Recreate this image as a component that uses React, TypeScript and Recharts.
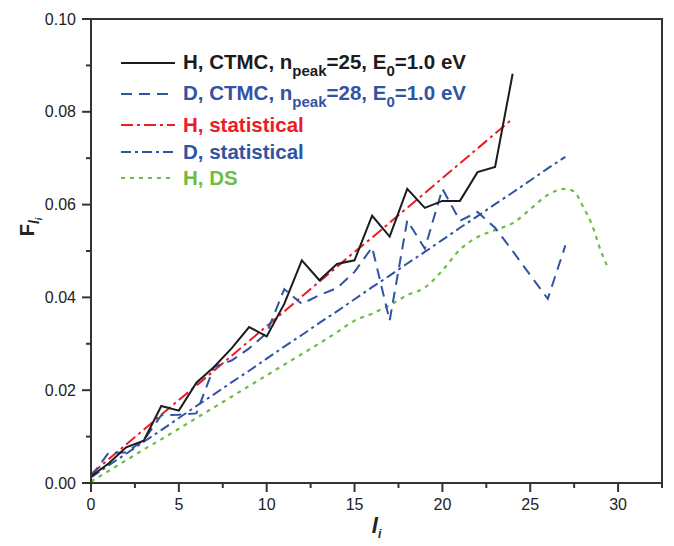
import React from 'react';
import { LineChart, Line, XAxis, YAxis, ReferenceArea, Legend } from 'recharts';

// ---- data ----
const lH = [0, 1, 2, 3, 4, 5, 6, 7, 8, 9, 10, 11, 12, 13, 14, 15, 16, 17, 18, 19, 20, 21, 22, 23, 24];
const hCTMC = [0.0014, 0.0042, 0.0077, 0.0091, 0.0166, 0.0156, 0.0216, 0.025, 0.029, 0.0336, 0.0316, 0.0386, 0.048, 0.0437, 0.0472, 0.048, 0.0576, 0.0531, 0.0634, 0.0593, 0.0608, 0.0608, 0.067, 0.0681, 0.0882];
const hStat = [0.0019, 0.0051, 0.0083, 0.0115, 0.0147, 0.0179, 0.021, 0.0242, 0.0274, 0.0306, 0.0338, 0.037, 0.0402, 0.0434, 0.0466, 0.0498, 0.0529, 0.0561, 0.0593, 0.0625, 0.0657, 0.0689, 0.0721, 0.0753, 0.0785];

const lD = [0, 1, 2, 3, 4, 5, 6, 7, 8, 9, 10, 11, 12, 13, 14, 15, 16, 17, 18, 19, 20, 21, 22, 23, 24, 25, 26, 27];
const dCTMC = [0.0014, 0.0065, 0.0066, 0.0092, 0.0146, 0.0147, 0.015, 0.025, 0.0264, 0.029, 0.0323, 0.0418, 0.0386, 0.0405, 0.042, 0.0455, 0.0508, 0.035, 0.0566, 0.0505, 0.0634, 0.0565, 0.0584, 0.055, 0.05, 0.0448, 0.0397, 0.0512];
const dStat = [0.0012, 0.0038, 0.0063, 0.0089, 0.0114, 0.014, 0.0166, 0.0191, 0.0217, 0.0242, 0.0268, 0.0294, 0.0319, 0.0345, 0.037, 0.0396, 0.0422, 0.0447, 0.0473, 0.0498, 0.0524, 0.055, 0.0575, 0.0601, 0.0626, 0.0652, 0.0678, 0.0703];

const lDS = [0, 1, 2, 3, 4, 5, 6, 7, 8, 9, 10, 11, 12, 13, 14, 15, 16, 17, 18, 19, 20, 21, 22, 23, 24, 25, 26, 27, 27.5, 28, 28.5, 29, 29.4];
const hDS = [0.0003, 0.0026, 0.0049, 0.0072, 0.0094, 0.0117, 0.014, 0.0163, 0.0186, 0.0209, 0.0232, 0.0255, 0.0278, 0.0301, 0.0325, 0.035, 0.0365, 0.0383, 0.0405, 0.0421, 0.0458, 0.0503, 0.053, 0.0545, 0.056, 0.059, 0.0621, 0.0634, 0.0628, 0.0596, 0.0558, 0.0502, 0.0466];

const xTicks = [0, 2.5, 5, 7.5, 10, 12.5, 15, 17.5, 20, 22.5, 25, 27.5, 30, 32.5];
const yTicks = [0, 0.01, 0.02, 0.03, 0.04, 0.05, 0.06, 0.07, 0.08, 0.09, 0.1];

const zip = (xs: number[], ys: number[]) => xs.map((x, i) => ({ x, y: ys[i] }));

const BLACK = '#1c1c1c';
const BLUE = '#3153a3';
const RED = '#ec1c24';
const GREEN = '#6cbd45';
const AXIS = '#333333';
const FONT = '"Liberation Sans", Arial, Helvetica, sans-serif';

const XTick = (props: any) => {
  const { x, y, payload } = props;
  const v = payload.value as number;
  const major = Math.abs(v / 5 - Math.round(v / 5)) < 1e-6;
  return (
    <g>
      <line x1={x} y1={y} x2={x} y2={y + (major ? 9 : 5)} stroke={AXIS} strokeWidth={2} />
      {major && (
        <text x={x} y={y + 27} textAnchor="middle" fontSize={16} fontFamily={FONT} fill="#222">
          {v}
        </text>
      )}
    </g>
  );
};

const YTick = (props: any) => {
  const { x, y, payload } = props;
  const v = payload.value as number;
  const major = Math.abs(v / 0.02 - Math.round(v / 0.02)) < 1e-6;
  return (
    <g>
      <line x1={x} y1={y} x2={x - (major ? 9 : 5)} y2={y} stroke={AXIS} strokeWidth={2} />
      {major && (
        <text x={x - 15} y={y + 5.5} textAnchor="end" fontSize={16} fontFamily={FONT} fill="#222">
          {v.toFixed(2)}
        </text>
      )}
    </g>
  );
};

const legendRows = [
  { color: BLACK, dash: undefined as string | undefined, main: ['H, CTMC, n', '=25, E', '=1.0 eV'], subs: ['peak', '0'], center: 63 },
  { color: BLUE, dash: '11 7', main: ['D, CTMC, n', '=28, E', '=1.0 eV'], subs: ['peak', '0'], center: 94 },
  { color: RED, dash: '12 4 3 4', main: ['H, statistical'], subs: [], center: 125 },
  { color: BLUE, dash: '10 4 3 4', main: ['D, statistical'], subs: [], center: 152 },
  { color: GREEN, dash: '4 5', main: ['H, DS'], subs: [], center: 178 },
];

const renderLegend = () => (
  <div style={{ position: 'relative', width: 674, height: 0 }}>
    {legendRows.map((r, i) => (
      <div
        key={i}
        style={{
          position: 'absolute',
          left: 121,
          top: r.center - 10,
          height: 20,
          display: 'flex',
          alignItems: 'center',
          whiteSpace: 'nowrap',
        }}
      >
        <svg width={54} height={6} style={{ display: 'block' }}>
          <line x1={0} y1={3} x2={54} y2={3} stroke={r.color} strokeWidth={2} strokeDasharray={r.dash} />
        </svg>
        <span
          style={{
            marginLeft: 8,
            fontFamily: FONT,
            fontWeight: 'bold',
            fontSize: 20.5,
            lineHeight: '20px',
            color: r.color,
          }}
        >
          {r.main.map((m, j) => (
            <React.Fragment key={j}>
              {m}
              {r.subs[j] !== undefined && (
                <span style={{ fontSize: 15, position: 'relative', top: 7 }}>{r.subs[j]}</span>
              )}
            </React.Fragment>
          ))}
        </span>
      </div>
    ))}
  </div>
);

const YLabel = (props: any) => {
  const vb = props.viewBox || { x: 0, y: 19, width: 91, height: 464 };
  const cx = vb.x + 34;
  const cy = vb.y + vb.height / 2 - 24;
  return (
    <text
      x={cx}
      y={cy}
      transform={`rotate(-90 ${cx} ${cy})`}
      textAnchor="middle"
      fontFamily={FONT}
      fontWeight="bold"
      fontSize={20}
      fill="#222"
    >
      F
      <tspan fontSize={14} fontStyle="italic" dy={5}>l</tspan>
      <tspan fontSize={9} fontStyle="italic" dy={3}>i</tspan>
    </text>
  );
};

const XLabel = (props: any) => {
  const vb = props.viewBox || { x: 91, y: 483, width: 571, height: 63 };
  const cx = vb.x + vb.width / 2;
  const cy = vb.y + 50;
  return (
    <text x={cx} y={cy} textAnchor="middle" fontFamily={FONT} fontWeight="bold" fontStyle="italic" fontSize={22} fill="#222">
      l
      <tspan fontSize={12} dy={5}>i</tspan>
    </text>
  );
};

export default function App() {
  return (
    <div style={{ position: 'absolute', left: 0, top: 0, width: 674, height: 546, background: '#fff' }}>
      <LineChart width={674} height={546} margin={{ top: 19, right: 12, bottom: 0, left: 0 }}>
        <XAxis
          type="number"
          dataKey="x"
          domain={[0, 32.5]}
          ticks={xTicks}
          interval={0}
          allowDataOverflow
          height={63}
          tickSize={0}
          tickMargin={0}
          tickLine={false}
          tick={<XTick />}
          stroke={AXIS}
          strokeWidth={2}
          label={<XLabel />}
        />
        <YAxis
          type="number"
          dataKey="y"
          domain={[0, 0.1]}
          ticks={yTicks}
          interval={0}
          allowDataOverflow
          width={91}
          tickSize={0}
          tickMargin={0}
          tickLine={false}
          tick={<YTick />}
          stroke={AXIS}
          strokeWidth={2}
          label={<YLabel />}
        />
        <ReferenceArea x1={0} x2={32.5} y1={0} y2={0.1} fill="none" stroke={AXIS} strokeWidth={2} />
        <Line data={zip(lDS, hDS)} dataKey="y" type="monotone" stroke={GREEN} strokeWidth={2.2} strokeDasharray="4 5" dot={false} isAnimationActive={false} />
        <Line data={zip(lD, dStat)} dataKey="y" type="linear" stroke={BLUE} strokeWidth={2} strokeDasharray="10 4 3 4" dot={false} isAnimationActive={false} />
        <Line data={zip(lH, hStat)} dataKey="y" type="linear" stroke={RED} strokeWidth={2} strokeDasharray="12 4 3 4" dot={false} isAnimationActive={false} />
        <Line data={zip(lD, dCTMC)} dataKey="y" type="linear" stroke={BLUE} strokeWidth={2} strokeDasharray="11 7" dot={false} isAnimationActive={false} />
        <Line data={zip(lH, hCTMC)} dataKey="y" type="linear" stroke={BLACK} strokeWidth={2} dot={false} isAnimationActive={false} />
        <Legend
          layout="vertical"
          align="center"
          verticalAlign="middle"
          wrapperStyle={{ top: 0, left: 0, width: 674, height: 0 }}
          content={renderLegend}
        />
      </LineChart>
    </div>
  );
}
